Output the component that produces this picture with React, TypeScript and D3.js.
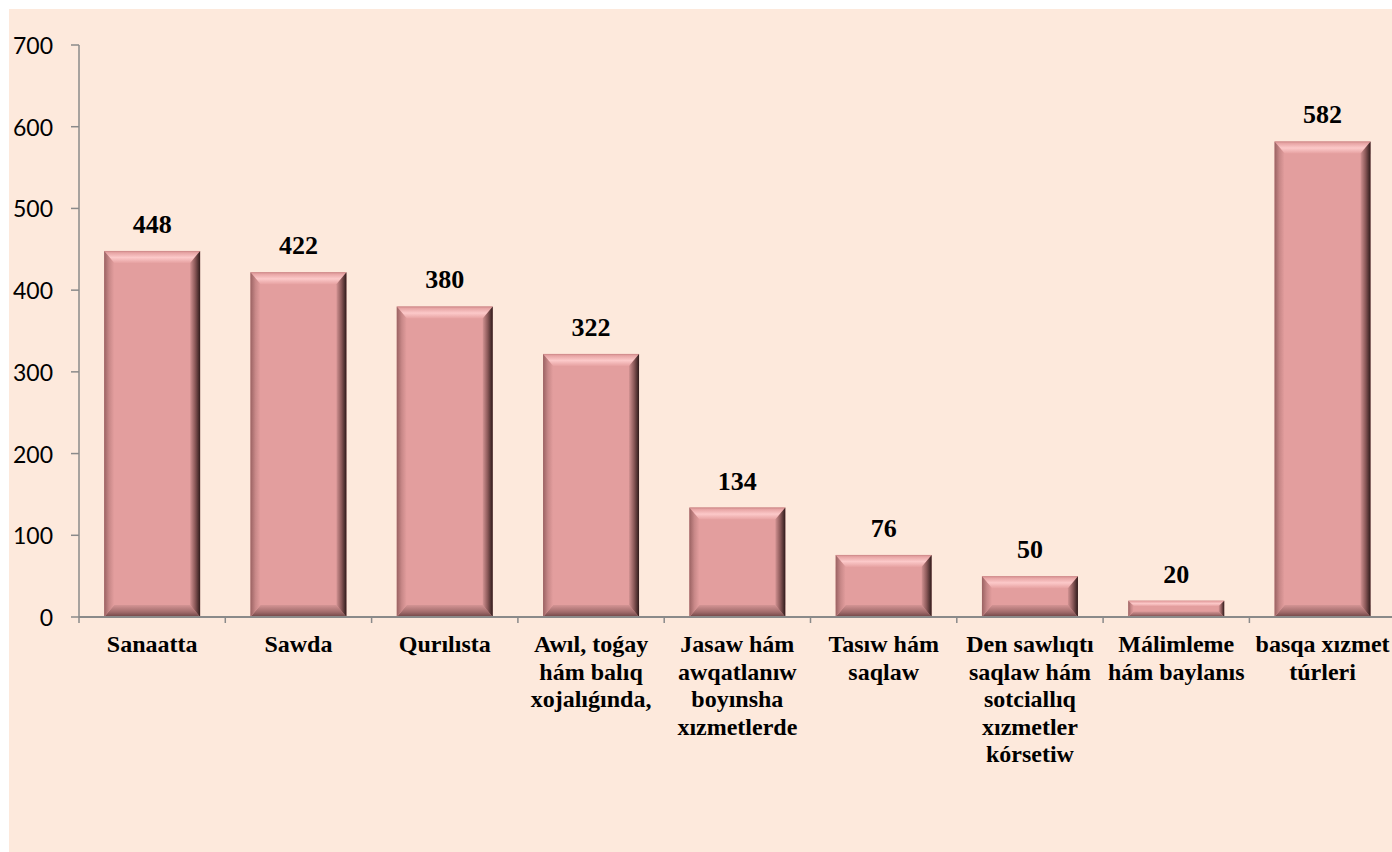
import React from "react";
import * as d3 from "d3";

const categories: string[][] = [
  ["Sanaatta"],
  ["Sawda"],
  ["Qurılısta"],
  ["Awıl, toǵay", "hám balıq", "xojalıǵında,"],
  ["Jasaw hám", "awqatlanıw", "boyınsha", "xızmetlerde"],
  ["Tasıw hám", "saqlaw"],
  ["Den sawlıqtı", "saqlaw hám", "sotciallıq", "xızmetler", "kórsetiw"],
  ["Málimleme", "hám baylanıs"],
  ["basqa xızmet", "túrleri"],
];
const values: number[] = [448, 422, 380, 322, 134, 76, 50, 20, 582];
const yTicks: number[] = [0, 100, 200, 300, 400, 500, 600, 700];

const W = 1392;
const H = 852;
const X0 = 79;
const STEP = 146.3;
const Y0 = 617;
const YTOP = 45;

export default function App() {
  const ids = categories.map((_, i) => i);
  const x = d3
    .scaleBand<number>()
    .domain(ids)
    .range([X0, X0 + STEP * ids.length])
    .padding(0);
  const y = d3.scaleLinear().domain([0, 700]).range([Y0, YTOP]);
  const barW = x.bandwidth() * 0.656;
  const axisColor = "#8a8a8a";

  return (
    <svg
      width={W}
      height={H}
      style={{ position: "absolute", left: 0, top: 0, display: "block" }}
    >
      <defs>
        <linearGradient id="gTop" x1="0" y1="0" x2="0" y2="1">
          <stop offset="0" stopColor="#c98484" />
          <stop offset="0.15" stopColor="#e7a4a4" />
          <stop offset="0.55" stopColor="#fcc9c9" />
          <stop offset="1" stopColor="#e7a2a2" />
        </linearGradient>
        <linearGradient id="gLeft" x1="0" y1="0" x2="1" y2="0">
          <stop offset="0" stopColor="#9a6262" />
          <stop offset="0.5" stopColor="#c88888" />
          <stop offset="1" stopColor="#e39e9e" />
        </linearGradient>
        <linearGradient id="gRight" x1="0" y1="0" x2="1" y2="0">
          <stop offset="0" stopColor="#d29292" />
          <stop offset="0.5" stopColor="#8a5858" />
          <stop offset="1" stopColor="#2e1a1a" />
        </linearGradient>
        <linearGradient id="gBottom" x1="0" y1="0" x2="0" y2="1">
          <stop offset="0" stopColor="#d49494" />
          <stop offset="0.6" stopColor="#a06a6a" />
          <stop offset="1" stopColor="#6e4444" />
        </linearGradient>
      </defs>
      <rect x={9} y={9} width={W - 9} height={H - 9} fill="#fde9dc" />

      {/* y axis */}
      <line x1={X0} x2={X0} y1={YTOP} y2={Y0} stroke={axisColor} strokeWidth={1.5} />
      {yTicks.map((t) => (
        <g key={t}>
          <line x1={X0 - 8} x2={X0} y1={y(t)} y2={y(t)} stroke={axisColor} strokeWidth={1.5} />
          <text
            x={53}
            y={y(t)}
            textAnchor="end"
            dominantBaseline="central"
            fontFamily="Lato, 'Open Sans', sans-serif"
            fontSize={23}
            fill="#000"
          >
            {t}
          </text>
        </g>
      ))}

      {/* bars */}
      {values.map((v, i) => {
        const cx = (x(i) as number) + x.bandwidth() / 2;
        const x0 = cx - barW / 2;
        const x1 = cx + barW / 2;
        const yt = y(v);
        const yb = y(0);
        const h = yb - yt;
        const b = Math.min(12, h / 3);
        const bs = Math.min(10, h / 3);
        return (
          <g key={i}>
            <rect x={x0} y={yt} width={barW} height={h} fill="#e39e9e" />
            <polygon
              points={`${x0},${yt} ${x1},${yt} ${x1 - bs},${yt + b} ${x0 + bs},${yt + b}`}
              fill="url(#gTop)"
            />
            <polygon
              points={`${x0},${yb} ${x1},${yb} ${x1 - bs},${yb - b} ${x0 + bs},${yb - b}`}
              fill="url(#gBottom)"
            />
            <polygon
              points={`${x0},${yt} ${x0 + bs},${yt + b} ${x0 + bs},${yb - b} ${x0},${yb}`}
              fill="url(#gLeft)"
            />
            <polygon
              points={`${x1},${yt} ${x1 - bs},${yt + b} ${x1 - bs},${yb - b} ${x1},${yb}`}
              fill="url(#gRight)"
            />
            <text
              x={cx}
              y={yt - 18}
              textAnchor="middle"
              fontFamily="'Liberation Serif', 'Times New Roman', serif"
              fontWeight="bold"
              fontSize={26}
              fill="#000"
            >
              {v}
            </text>
          </g>
        );
      })}

      {/* x axis */}
      <line x1={X0} x2={W} y1={Y0} y2={Y0} stroke={axisColor} strokeWidth={2} />
      {ids.map((i) => (
        <line
          key={i}
          x1={x(i) as number}
          x2={x(i) as number}
          y1={Y0}
          y2={Y0 + 6}
          stroke={axisColor}
          strokeWidth={1.5}
        />
      ))}
      {categories.map((lines, i) => {
        const cx = (x(i) as number) + x.bandwidth() / 2;
        return (
          <text
            key={i}
            textAnchor="middle"
            fontFamily="'Liberation Serif', 'Times New Roman', serif"
            fontWeight="bold"
            fontSize={24}
            fill="#000"
          >
            {lines.map((ln, j) => (
              <tspan key={j} x={cx} y={652 + j * 27.5}>
                {ln}
              </tspan>
            ))}
          </text>
        );
      })}
    </svg>
  );
}
